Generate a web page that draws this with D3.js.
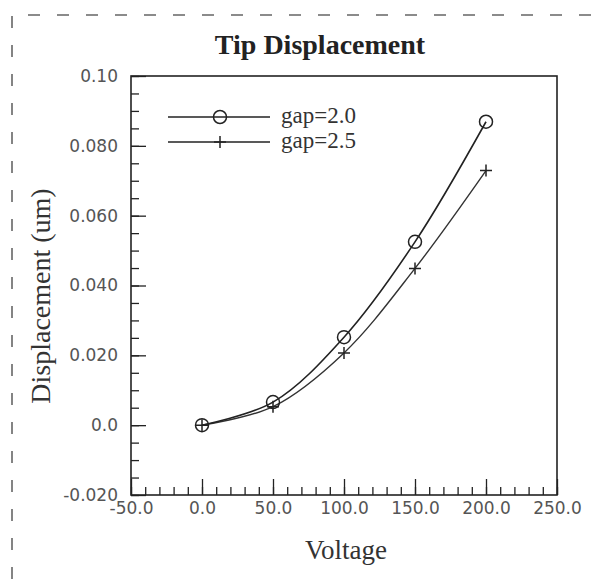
<!DOCTYPE html>
<html>
<head>
<title>Tip Displacement</title>
    <meta charset="utf-8">
    <script type="text/javascript" src="https://d3js.org/d3.v7.min.js"></script>
    <style>
        body { margin: 0; background: #fff; }
    </style>
</head>
<body>
<svg width="592" height="579" id="mainsvg"></svg>
<script>
    // values
    const voltage = [0, 50, 100, 150, 200];
    const gap20 = [0.0, 0.0066, 0.0252, 0.0525, 0.0869];
    const gap25 = [0.0, 0.0053, 0.0207, 0.0449, 0.0729];
    const seriesNames = ['gap=2.0', 'gap=2.5'];
    const xTicks = [-50, 0, 50, 100, 150, 200, 250];
    const xTickLabels = ['-50.0', '0.0', '50.0', '100.0', '150.0', '200.0', '250.0'];
    const yTicks = [-0.02, 0.0, 0.02, 0.04, 0.06, 0.08, 0.10];
    const yTickLabels = ['-0.020', '0.0', '0.020', '0.040', '0.060', '0.080', '0.10'];

    const svg = d3.select('#mainsvg');
    const width = +svg.attr('width');
    const height = +svg.attr('height');
    const margin = {top:76, right:35, bottom:84, left:131};
    const innerWidth = width - margin.left - margin.right;
    const innerHeight = height - margin.top - margin.bottom;
    const ink = '#222';

    // dashed frame around the figure
    svg.append('path')
        .attr('d', `M12,${height} V15 H${width}`)
        .attr('fill', 'none')
        .attr('stroke', '#666')
        .attr('stroke-width', 1.6)
        .attr('stroke-dasharray', '12,17');

    const xScale = d3.scaleLinear().domain([-50, 250]).range([0, innerWidth]);
    const yScale = d3.scaleLinear().domain([-0.02, 0.10]).range([innerHeight, 0]);

    const g = svg.append('g').attr('id', 'maingroup')
        .attr('transform', `translate(${margin.left},${margin.top})`);

    // minor ticks
    g.append('g').attr('class', 'minor')
        .call(d3.axisLeft(yScale).tickValues(d3.range(-0.02, 0.1001, 0.005)).tickSize(-8).tickFormat(''));
    g.append('g').attr('class', 'minor')
        .attr('transform', `translate(0,${innerHeight})`)
        .call(d3.axisBottom(xScale).tickValues(d3.range(-50, 251, 10)).tickSize(-8).tickFormat(''));
    g.selectAll('.minor text').remove();

    // major ticks with labels
    g.append('g').attr('class', 'major')
        .call(d3.axisLeft(yScale).tickValues(yTicks).tickSize(-15).tickPadding(13)
            .tickFormat((d, i) => yTickLabels[i]));
    g.append('g').attr('class', 'major')
        .attr('transform', `translate(0,${innerHeight})`)
        .call(d3.axisBottom(xScale).tickValues(xTicks).tickSize(-16).tickPadding(7)
            .tickFormat((d, i) => xTickLabels[i]));

    g.selectAll('.domain').remove();
    g.selectAll('.tick line').attr('stroke', ink).attr('stroke-width', 1.3);
    g.selectAll('.tick text')
        .attr('font-family', 'DejaVu Sans')
        .attr('font-size', 17)
        .attr('fill', '#555');

    // plot frame
    g.append('rect')
        .attr('width', innerWidth)
        .attr('height', innerHeight)
        .attr('fill', 'none')
        .attr('stroke', ink)
        .attr('stroke-width', 1.6);

    const line = d3.line()
        .x(d => xScale(d[0]))
        .y(d => yScale(d[1]))
        .curve(d3.curveCatmullRom.alpha(0.5));

    const pts20 = voltage.map((v, i) => [v, gap20[i]]);
    const pts25 = voltage.map((v, i) => [v, gap25[i]]);

    g.append('path').datum(pts25).attr('d', line)
        .attr('fill', 'none').attr('stroke', '#333').attr('stroke-width', 1.4);
    g.append('path').datum(pts20).attr('d', line)
        .attr('fill', 'none').attr('stroke', ink).attr('stroke-width', 1.6);

    const plus = (sel, x, y) => {
        sel.append('path')
            .attr('d', `M${x - 6},${y} H${x + 6} M${x},${y - 6} V${y + 6}`)
            .attr('stroke', ink).attr('stroke-width', 1.5).attr('fill', 'none');
    };
    const circle = (sel, x, y) => {
        sel.append('circle')
            .attr('cx', x).attr('cy', y).attr('r', 6.5)
            .attr('fill', 'none').attr('stroke', ink).attr('stroke-width', 1.5);
    };

    pts20.forEach(d => circle(g, xScale(d[0]), yScale(d[1])));
    pts25.forEach(d => plus(g, xScale(d[0]), yScale(d[1])));

    // legend
    const legend = svg.append('g');
    [[117, circle], [142, plus]].forEach(([y, mark], i) => {
        legend.append('line')
            .attr('x1', 168).attr('x2', 270).attr('y1', y).attr('y2', y)
            .attr('stroke', ink).attr('stroke-width', 1.5);
        mark(legend, 220, y);
        legend.append('text')
            .attr('x', 281).attr('y', y + 6)
            .attr('font-family', 'Liberation Serif')
            .attr('font-size', 23)
            .attr('fill', '#333')
            .text(seriesNames[i]);
    });

    // titles
    svg.append('text').text('Tip Displacement')
        .attr('x', 320).attr('y', 54)
        .attr('text-anchor', 'middle')
        .attr('font-family', 'Liberation Serif')
        .attr('font-weight', 'bold')
        .attr('font-size', 28)
        .attr('fill', '#222');

    svg.append('text').text('Voltage')
        .attr('x', 346).attr('y', 559)
        .attr('text-anchor', 'middle')
        .attr('font-family', 'Liberation Serif')
        .attr('font-size', 27)
        .attr('fill', '#333');

    svg.append('text').text('Displacement (um)')
        .attr('transform', 'translate(50,296) rotate(-90)')
        .attr('text-anchor', 'middle')
        .attr('font-family', 'Liberation Serif')
        .attr('font-size', 28)
        .attr('fill', '#333');
</script>
</body>
</html>
